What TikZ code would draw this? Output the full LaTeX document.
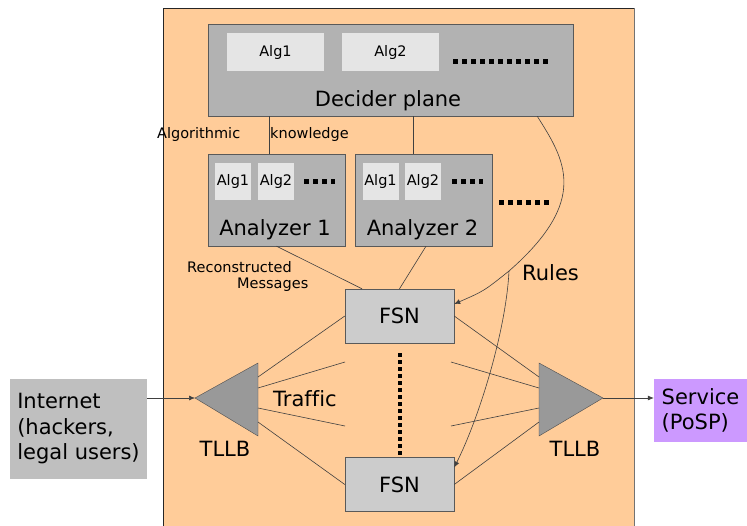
\documentclass[tikz,border=0pt]{standalone}
\usepackage{fontspec}
\setmainfont[Ligatures=NoCommon]{DejaVu Sans}
\usetikzlibrary{positioning,arrows.meta}

\definecolor{panelc}{HTML}{FFCC99}
\definecolor{srvc}{HTML}{CC99FF}

\tikzset{
  big/.style={font=\fontsize{21}{25.5}\selectfont, inner sep=0pt},
  small/.style={font=\fontsize{14.5}{17}\selectfont, inner sep=0pt},
  plane/.style={draw=black!65, fill=black!30, minimum height=92pt, inner sep=0pt},
  alg/.style={small, fill=black!10, minimum height=#1},
  alg/.default=37pt,
  fsn/.style={big, draw=black!65, fill=black!20, minimum width=109pt, minimum height=54pt},
  tllb/.style={draw=black!70, fill=black!40},
  link/.style={draw=black!75, line width=0.6pt},
  tip/.style={-{Latex[length=6pt,width=5pt]}},
  dots/.style={line width=5pt, dash pattern=on 5pt off 4pt},
  vdots/.style={line width=4pt, dash pattern=on 4pt off 3pt}
}

\begin{document}
\begin{tikzpicture}[x=1pt,y=-1pt]
  \useasboundingbox (0,0) rectangle (747,525);
  \fill[panelc] (163,8) rectangle (634,530);
  \draw[black!85] (163,530) -- (163,8) -- (634,8);
  \draw[black!55] (634,8) -- (634,530);

  % decider plane
  \node[plane, minimum width=365pt] (dp) at (390.5,70) {};
  \node[alg=38pt, minimum width=97pt] (d1) at (275.5,52) {Alg1};
  \node[alg=38pt, minimum width=97pt] (d2) at (390.5,52) {Alg2};
  \draw[dots] (453,61) -- (549,61);
  \node[big, anchor=base] (dpl) at (388,106) {Decider plane};

  % analyzers
  \node[plane, minimum width=137pt] (a1) at (276.5,200) {};
  \node[plane, minimum width=137pt] (a2) at (424,200) {};
  \node[alg, minimum width=36pt] (a1g1) at (233,181.5) {Alg1};
  \node[alg, minimum width=36pt] (a1g2) at (276,181.5) {Alg2};
  \node[alg, minimum width=36pt] (a2g1) at (380.5,181.5) {Alg1};
  \node[alg, minimum width=36pt] (a2g2) at (423,181.5) {Alg2};
  \draw[dots] (304,181) -- (335,181);
  \draw[dots] (452,181) -- (483,181);
  \draw[dots] (499,202) -- (550,202);
  \node[big, anchor=base] (a1l) at (275,235) {Analyzer 1};
  \node[big, anchor=base] (a2l) at (422.5,235) {Analyzer 2};

  \node[small, anchor=base west] (ak1) at (157,138) {Algorithmic};
  \node[small, anchor=base west] (ak2) at (270,138) {knowledge};
  \node[small, anchor=base west] (rm1) at (187,272) {Reconstructed};
  \node[small, anchor=base west] (rm2) at (237,288) {Messages};
  \node[big, anchor=base west] (rl) at (522,280) {Rules};

  % fsn
  \node[fsn] (f1) at (399.5,316) {FSN};
  \node[fsn] (f2) at (399.5,484.5) {FSN};
  \draw[vdots] (f1.south) ++(0,10) -- (f2.north);

  % outside
  \node[big, fill=black!25, align=left, minimum width=137pt, minimum height=100pt] (net) at (78.5,429) {Internet\\(hackers,\\legal users)};
  \node[big, fill=srvc, align=left, minimum width=93pt, minimum height=63pt] (srv) at (700.5,410.5) {Service\\(PoSP)};

  % load balancers
  \draw[tllb] (195,398) coordinate (lb1) -- (258,363) -- (258,436) -- cycle;
  \draw[tllb] (603,398) coordinate (lb2) -- (539,363) -- (539,436) -- cycle;
  \node[big, anchor=base] (t1) at (225,456) {TLLB};
  \node[big, anchor=base] (t2) at (575,456) {TLLB};
  \node[big, anchor=base west] (tr) at (273,406) {Traffic};

  \coordinate (l1) at (258,377);
  \coordinate (l2) at (258,388);
  \coordinate (l3) at (258,408);
  \coordinate (l4) at (258,422);
  \coordinate (r1) at (539,377);
  \coordinate (r2) at (539,388);
  \coordinate (r3) at (539,408);
  \coordinate (r4) at (539,422);
  \coordinate (m1) at (345,362);
  \coordinate (m2) at (345,426);
  \coordinate (m3) at (451,362);
  \coordinate (m4) at (451,426);
  \coordinate (br) at (509,271);

  \draw[link] ([xshift=-7.5pt]a1.north) -- ([xshift=-7.5pt]a1.north |- dp.south);
  \draw[link] ([xshift=-11pt]a2.north) -- ([xshift=-11pt]a2.north |- dp.south);
  \draw[link] (a1.south) -- ([xshift=-37.5pt]f1.north);
  \draw[link] ([xshift=2pt]a2.south) -- (f1.north);

  \draw[link, tip] ([xshift=-36pt]dp.south east) .. controls (565,160) and (590,200) .. (br)
    .. controls +(-25,20) .. ([yshift=12pt]f1.east);
  \draw[link, tip] (br) .. controls +(-3,60) and +(25,-50) .. ([yshift=17pt]f2.east);

  \draw[link] (l1) -- (f1.west);
  \draw[link] (l2) -- (m1);
  \draw[link] (l3) -- (m2);
  \draw[link] (l4) -- (f2.west);
  \draw[link] (f1.east) -- (r1);
  \draw[link] (m3) -- (r2);
  \draw[link] (m4) -- (r3);
  \draw[link] (f2.east) -- (r4);

  \draw[link, tip] (net.east |- lb1) -- (lb1);
  \draw[link, tip] (lb2) -- (srv.west |- lb2);
\end{tikzpicture}
\end{document}
